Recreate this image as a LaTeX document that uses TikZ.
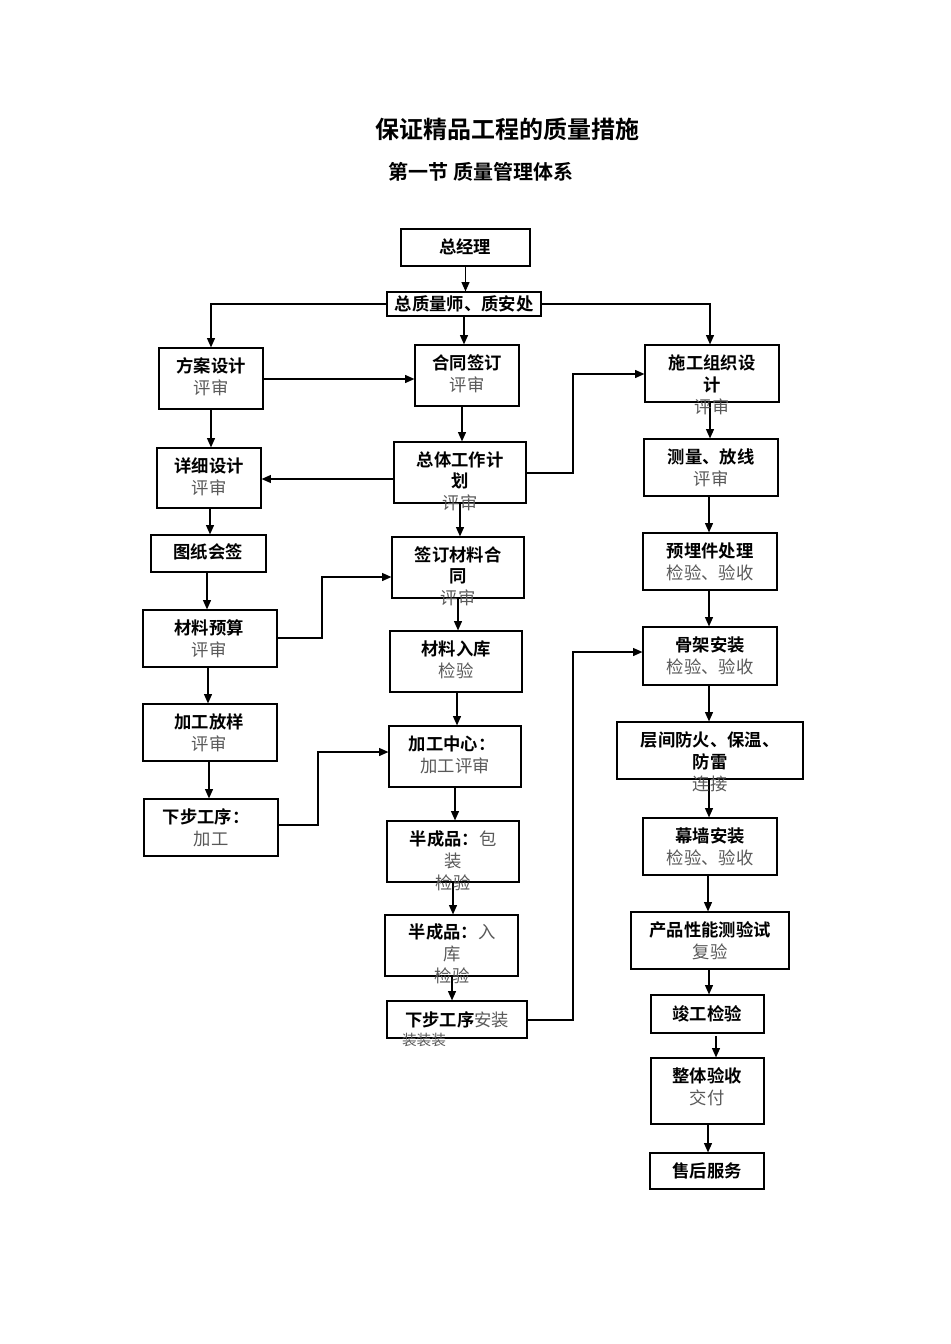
\documentclass[tikz,border=0pt]{standalone}
\usepackage{fontspec}
\setmainfont{Noto Sans CJK SC}
\newfontfamily\cjkb{Noto Sans CJK SC Bold}
\usetikzlibrary{fit,arrows.meta}
\definecolor{sub}{gray}{0.35}
\begin{document}
\begin{tikzpicture}[x=0.75pt,y=-0.75pt,
  box/.style={draw,line width=0.9pt,inner sep=0pt,rectangle},
  t1/.style={inner sep=0pt,font=\fontsize{13pt}{15pt}\cjkb},
  t2/.style={inner sep=0pt,text=sub,font=\fontsize{13pt}{15pt}\selectfont},
  ar/.style={draw,line width=0.9pt,-{Triangle[length=7pt,width=6pt]}}]
\useasboundingbox (0,0) rectangle (950,1344);
\newcommand\bx[5]{\node[box,fit={(#2,#3)(#4,#5)}] (#1) {};}
\node[t1,font=\fontsize{18pt}{20pt}\cjkb] (title) at (507,129) {保证精品工程的质量措施};
\node[t1,font=\fontsize{15pt}{18pt}\cjkb] (sub) at (481,172) {第一节 质量管理体系};
\bx{zjl}{401}{229}{530}{266}
\bx{zzl}{387}{292}{541}{316}
\bx{fa}{159}{348}{263}{409}
\bx{ht}{415}{345}{519}{406}
\bx{sg}{645}{345}{779}{402}
\bx{xx}{157}{448}{261}{508}
\bx{zt}{394}{442}{526}{503}
\bx{cl}{644}{439}{778}{496}
\bx{tz}{151}{535}{266}{572}
\bx{qd}{392}{537}{524}{598}
\bx{ym}{643}{533}{777}{590}
\bx{ys}{143}{610}{277}{667}
\bx{rk}{390}{631}{522}{692}
\bx{gj}{643}{627}{777}{685}
\bx{fy}{143}{704}{277}{761}
\bx{zx}{389}{726}{521}{787}
\bx{cj}{617}{722}{803}{779}
\bx{xb}{144}{799}{278}{856}
\bx{bz}{387}{821}{519}{882}
\bx{mq}{643}{818}{777}{875}
\bx{br}{385}{915}{518}{976}
\bx{cp}{631}{912}{789}{969}
\bx{az}{387}{1001}{527}{1038}
\bx{jg}{651}{995}{764}{1033}
\bx{zy}{651}{1058}{764}{1124}
\bx{sh}{650}{1153}{764}{1189}
\coordinate (c1) at (573,473);
\coordinate (c2) at (322,638);
\coordinate (c3) at (318,825);
\coordinate (c4) at (573,1020);
% arrows
\draw[ar] (zjl.south) -- (zjl.south |- zzl.north);
\draw[ar] (zzl.west) -| (fa.north);
\draw[ar] (zzl.east) -| (710,0 |- sg.north);
\draw[ar] (zzl.south) -- (zzl.south |- ht.north);
\draw[ar] (fa.east |- 0,379) -- (ht.west |- 0,379);
\draw[ar] (fa.south -| 211,0) -- (xx.north -| 211,0);
\draw[ar] (ht.south -| 462,0) -- (zt.north -| 462,0);
\draw[ar] (zt.west |- 0,479) -- (xx.east |- 0,479);
\draw[ar] (zt.east |- c1) -- (c1) |- (sg.west |- 0,374);
\draw[ar] (sg.south -| 710,0) -- (cl.north -| 710,0);
\draw[ar] (zt.south -| 460,0) -- (qd.north -| 460,0);
\draw[ar] (cl.south -| 709,0) -- (ym.north -| 709,0);
\draw[ar] (ym.south -| 709,0) -- (gj.north -| 709,0);
\draw[ar] (gj.south -| 709,0) -- (cj.north -| 709,0);
\draw[ar] (cj.south -| 709,0) -- (mq.north -| 709,0);
\draw[ar] (mq.south -| 708,0) -- (cp.north -| 708,0);
\draw[ar] (cp.south -| 709,0) -- (jg.north -| 709,0);
\draw[ar] (716,1036) -- (zy.north -| 716,0);
\draw[ar] (zy.south -| 708,0) -- (sh.north -| 708,0);
\draw[ar] (xx.south -| 210,0) -- (tz.north -| 210,0);
\draw[ar] (tz.south -| 207,0) -- (ys.north -| 207,0);
\draw[ar] (ys.south -| 208,0) -- (fy.north -| 208,0);
\draw[ar] (fy.south -| 209,0) -- (xb.north -| 209,0);
\draw[ar] (ys.east |- c2) -- (c2) |- (qd.west |- 0,577);
\draw[ar] (qd.south -| 458,0) -- (rk.north -| 458,0);
\draw[ar] (rk.south -| 457,0) -- (zx.north -| 457,0);
\draw[ar] (zx.south -| 455,0) -- (bz.north -| 455,0);
\draw[ar] (bz.south -| 453,0) -- (br.north -| 453,0);
\draw[ar] (br.south -| 452,0) -- (az.north -| 452,0);
\draw[ar] (xb.east |- c3) -- (c3) |- (zx.west |- 0,752);
\draw[ar] (az.east |- c4) -- (c4) |- (gj.west |- 0,652);
% texts
\node[t1] (x1) at (465,247) {总经理};
\node[t1] (x2) at (464,304) {总质量师、质安处};
\node[t1] (x3) at (211,366) {方案设计}; \node[t2] (y3) at (211,388) {评审};
\node[t1] (x4) at (467,363) {合同签订}; \node[t2] (y4) at (467,385) {评审};
\node[t1] (x5) at (712,363) {施工组织设}; \node[t1] (x5b) at (712,385) {计}; \node[t2] (y5) at (712,407) {评审};
\node[t1] (x6) at (209,466) {详细设计}; \node[t2] (y6) at (209,488) {评审};
\node[t1] (x7) at (460,460) {总体工作计}; \node[t1] (x7b) at (460,481) {划}; \node[t2] (y7) at (460,503) {评审};
\node[t1] (x8) at (711,457) {测量、放线}; \node[t2] (y8) at (711,479) {评审};
\node[t1] (x9) at (208,552) {图纸会签};
\node[t1] (x10) at (458,555) {签订材料合}; \node[t1] (x10b) at (458,576) {同}; \node[t2] (y10) at (458,598) {评审};
\node[t1] (x11) at (710,551) {预埋件处理}; \node[t2] (y11) at (710,573) {检验、验收};
\node[t1] (x12) at (209,628) {材料预算}; \node[t2] (y12) at (209,650) {评审};
\node[t1] (x13) at (456,649) {材料入库}; \node[t2] (y13) at (456,671) {检验};
\node[t1] (x14) at (710,645) {骨架安装}; \node[t2] (y14) at (710,667) {检验、验收};
\node[t1] (x15) at (209,722) {加工放样}; \node[t2] (y15) at (209,744) {评审};
\node[t1] (x16) at (452,744) {加工中心：}; \node[t2] (y16) at (455,766) {加工评审};
\node[t1] (x17) at (710,740) {层间防火、保温、}; \node[t1] (x17b) at (710,762) {防雷}; \node[t2] (y17) at (710,784) {连接};
\node[t1] (x18) at (206,817) {下步工序：}; \node[t2] (y18) at (211,839) {加工};
\node[t1] (x19) at (453,839) {半成品：\textcolor{sub}{\fontspec{Noto Sans CJK SC} 包}}; \node[t2] (x19b) at (453,861) {装}; \node[t2] (y19) at (453,883) {检验};
\node[t1] (x20) at (452,932) {半成品：\textcolor{sub}{\fontspec{Noto Sans CJK SC} 入}}; \node[t2] (x20b) at (452,954) {库}; \node[t2] (y20) at (452,976) {检验};
\node[t1] (x21) at (457,1020) {下步工序\textcolor{sub}{\fontspec{Noto Sans CJK SC}安装}};
\node[t2,font=\fontsize{11pt}{13pt}\selectfont] (y21) at (424,1040) {装装装};
\node[t1] (x22) at (710,836) {幕墙安装}; \node[t2] (y22) at (710,858) {检验、验收};
\node[t1] (x23) at (710,930) {产品性能测验试}; \node[t2] (y23) at (710,952) {复验};
\node[t1] (x24) at (707,1014) {竣工检验};
\node[t1] (x25) at (707,1076) {整体验收}; \node[t2] (y25) at (707,1098) {交付};
\node[t1] (x26) at (707,1171) {售后服务};
\end{tikzpicture}
\end{document}
